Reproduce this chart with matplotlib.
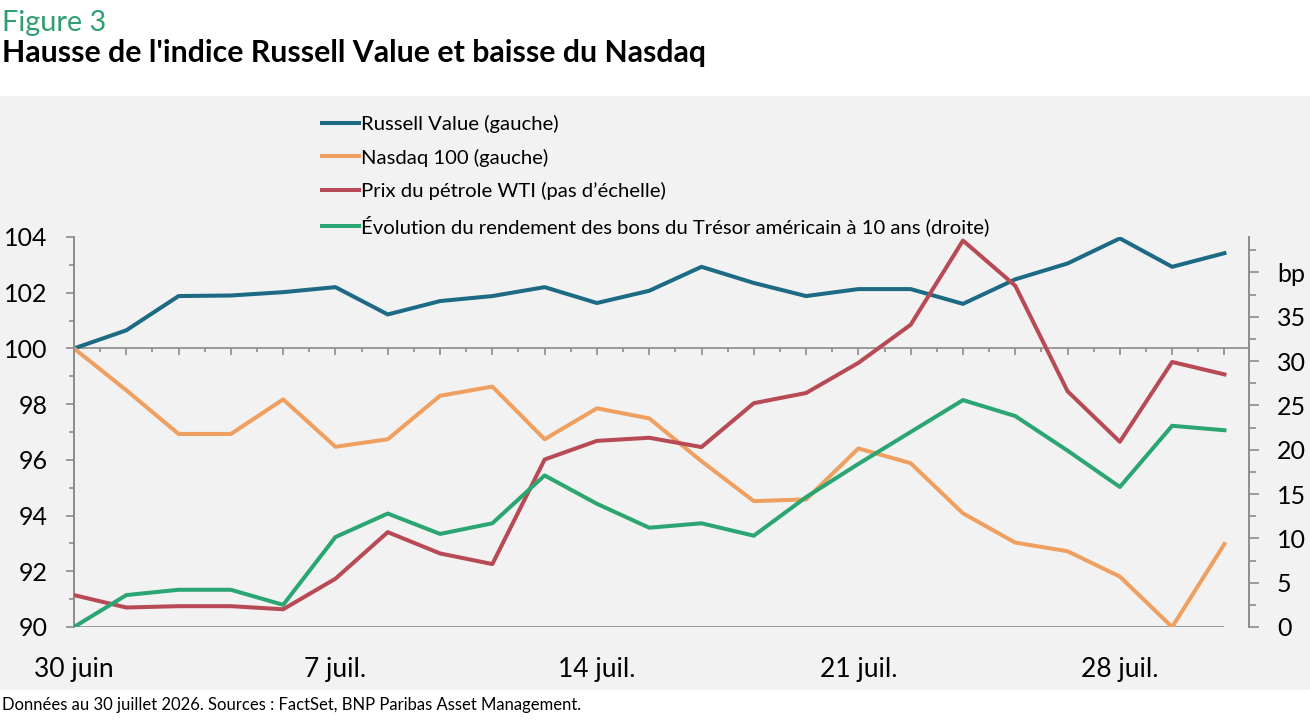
import matplotlib
matplotlib.use("Agg")
from matplotlib import pyplot as plt
from matplotlib.patches import Rectangle
from matplotlib.ticker import MultipleLocator, FuncFormatter, FixedLocator, NullFormatter

plt.rcParams['font.family'] = ['Lato', 'DejaVu Sans']

# business days from 30 juin to 30 juil. 2026
dates = ['30 juin', '1 juil.', '2 juil.', '3 juil.', '6 juil.', '7 juil.', '8 juil.', '9 juil.',
         '10 juil.', '13 juil.', '14 juil.', '15 juil.', '16 juil.', '17 juil.', '20 juil.',
         '21 juil.', '22 juil.', '23 juil.', '24 juil.', '27 juil.', '28 juil.', '29 juil.', '30 juil.']
tick_labels = ['30 juin', '7 juil.', '14 juil.', '21 juil.', '28 juil.']

# left axis (index, base 100)
russell = [100.0, 100.65, 101.88, 101.9, 102.02, 102.2, 101.22, 101.7, 101.88, 102.2, 101.63,
           102.07, 102.93, 102.35, 101.88, 102.13, 102.13, 101.6, 102.48, 103.05, 103.95,
           102.93, 103.42]
nasdaq = [100.0, 98.5, 96.93, 96.93, 98.17, 96.47, 96.74, 98.3, 98.63, 96.74, 97.85, 97.49,
          95.95, 94.52, 94.58, 96.41, 95.88, 94.08, 93.03, 92.72, 91.81, 90.0, 92.98]
# right axis (bp) ; oil has no scale of its own
wti = [3.6, 2.2, 2.35, 2.35, 2.0, 5.45, 10.7, 8.3, 7.1, 18.9, 21.0, 21.35, 20.3, 25.25, 26.4,
       29.8, 34.1, 43.6, 38.5, 26.6, 20.9, 29.9, 28.5]
us10y = [0.0, 3.6, 4.2, 4.2, 2.5, 10.15, 12.8, 10.5, 11.7, 17.1, 13.9, 11.2, 11.7, 10.3, 14.65,
         18.4, 22.0, 25.6, 23.8, 19.9, 15.8, 22.7, 22.2]

c_blue = '#1d6a85'
c_orange = '#efa060'
c_red = '#b84a55'
c_green = '#2ba673'
c_grid = '#8c8c8c'

x = list(range(len(dates)))
tick_pos = [dates.index(t) for t in tick_labels]

fig = plt.figure(figsize=(13.1, 7.28), dpi=100)
fig.patches.append(Rectangle((0, 1 - 690 / 728), 1, (690 - 96) / 728, transform=fig.transFigure,
                             facecolor='#f2f2f2', edgecolor='none', zorder=-10))

ax = fig.add_axes([74 / 1310, 1 - 627 / 728, (1249 - 74) / 1310, (627 - 237) / 728])
ax.patch.set_visible(False)
ax2 = ax.twinx()

lw = 2.9
l1, = ax.plot(x, russell, color=c_blue, lw=lw, label='Russell Value (gauche)', zorder=3)
l2, = ax.plot(x, nasdaq, color=c_orange, lw=lw, label='Nasdaq 100 (gauche)', zorder=3)
l3, = ax2.plot(x, wti, color=c_red, lw=lw, label="Prix du pétrole WTI (pas d\u2019échelle)", zorder=3)
l4, = ax2.plot(x, us10y, color=c_green, lw=lw,
               label='Évolution du rendement des bons du Trésor américain à 10 ans (droite)', zorder=3)

ax.set_xlim(0, len(dates) - 1 + 0.47)
ax.set_ylim(90, 104)
ax2.set_ylim(0, 44)

# bottom spine sits at 100 with the day ticks, labels go at the bottom
ax.spines['top'].set_visible(False)
ax2.spines['top'].set_visible(False)
ax2.spines['bottom'].set_visible(False)
ax.spines['bottom'].set_position(('data', 100))
for a in (ax, ax2):
    for s in ('left', 'right', 'bottom'):
        a.spines[s].set_color(c_grid)
        a.spines[s].set_linewidth(1.2)
ax.xaxis.set_major_locator(MultipleLocator(1))
ax.xaxis.set_minor_locator(MultipleLocator(0.5))
ax.xaxis.set_major_formatter(NullFormatter())
ax.tick_params(axis='x', which='major', direction='out', length=5, width=1.2, color=c_grid)
ax.tick_params(axis='x', which='minor', direction='out', length=3, width=1.2, color=c_grid)

ax.hlines(90, x[0], x[-1], color=c_grid, lw=1.2, zorder=2)

sec = ax.secondary_xaxis(0)
sec.spines['bottom'].set_visible(False)
sec.xaxis.set_major_locator(FixedLocator(tick_pos))
sec.set_xticklabels(tick_labels)
sec.tick_params(axis='x', length=0, pad=21.5, labelsize=19)

ax.yaxis.set_major_locator(MultipleLocator(2))
ax.yaxis.set_minor_locator(MultipleLocator(1))
ax.tick_params(axis='y', which='major', direction='out', length=5.8, width=1.2, color=c_grid,
               pad=13, labelsize=18)
ax.tick_params(axis='y', which='minor', direction='out', length=3.6, width=1.2, color=c_grid)

ax2.yaxis.set_major_locator(MultipleLocator(5))
ax2.yaxis.set_minor_locator(MultipleLocator(2.5))
ax2.yaxis.set_major_formatter(FuncFormatter(lambda v, p: 'bp' if round(v) == 40 else f'{v:.0f}'))
ax2.tick_params(axis='y', which='major', direction='out', length=7.2, width=1.2, color=c_grid,
                pad=13, labelsize=18)
ax2.tick_params(axis='y', which='minor', direction='out', length=5, width=1.2, color=c_grid)

fig.legend(handles=[l1, l2, l3, l4], loc='upper left', bbox_to_anchor=(322 / 1310, 1 - 115 / 728),
           frameon=False, fontsize=14.6, handlelength=1.82, handletextpad=0.12, labelspacing=0.76,
           borderpad=0, borderaxespad=0)

fig.text(2 / 1310, 1 - 31 / 728, 'Figure 3', color='#2e9f6e', fontsize=20.8, ha='left', va='baseline')
fig.text(2 / 1310, 1 - 62 / 728, "Hausse de l'indice Russell Value et baisse du Nasdaq",
         fontsize=21.8, fontweight='bold', ha='left', va='baseline')
fig.text(2 / 1310, 1 - 710 / 728,
         'Données au 30 juillet 2026. Sources : FactSet, BNP Paribas Asset Management.',
         fontsize=12, ha='left', va='baseline')

fig.savefig('out.png', dpi=100)
